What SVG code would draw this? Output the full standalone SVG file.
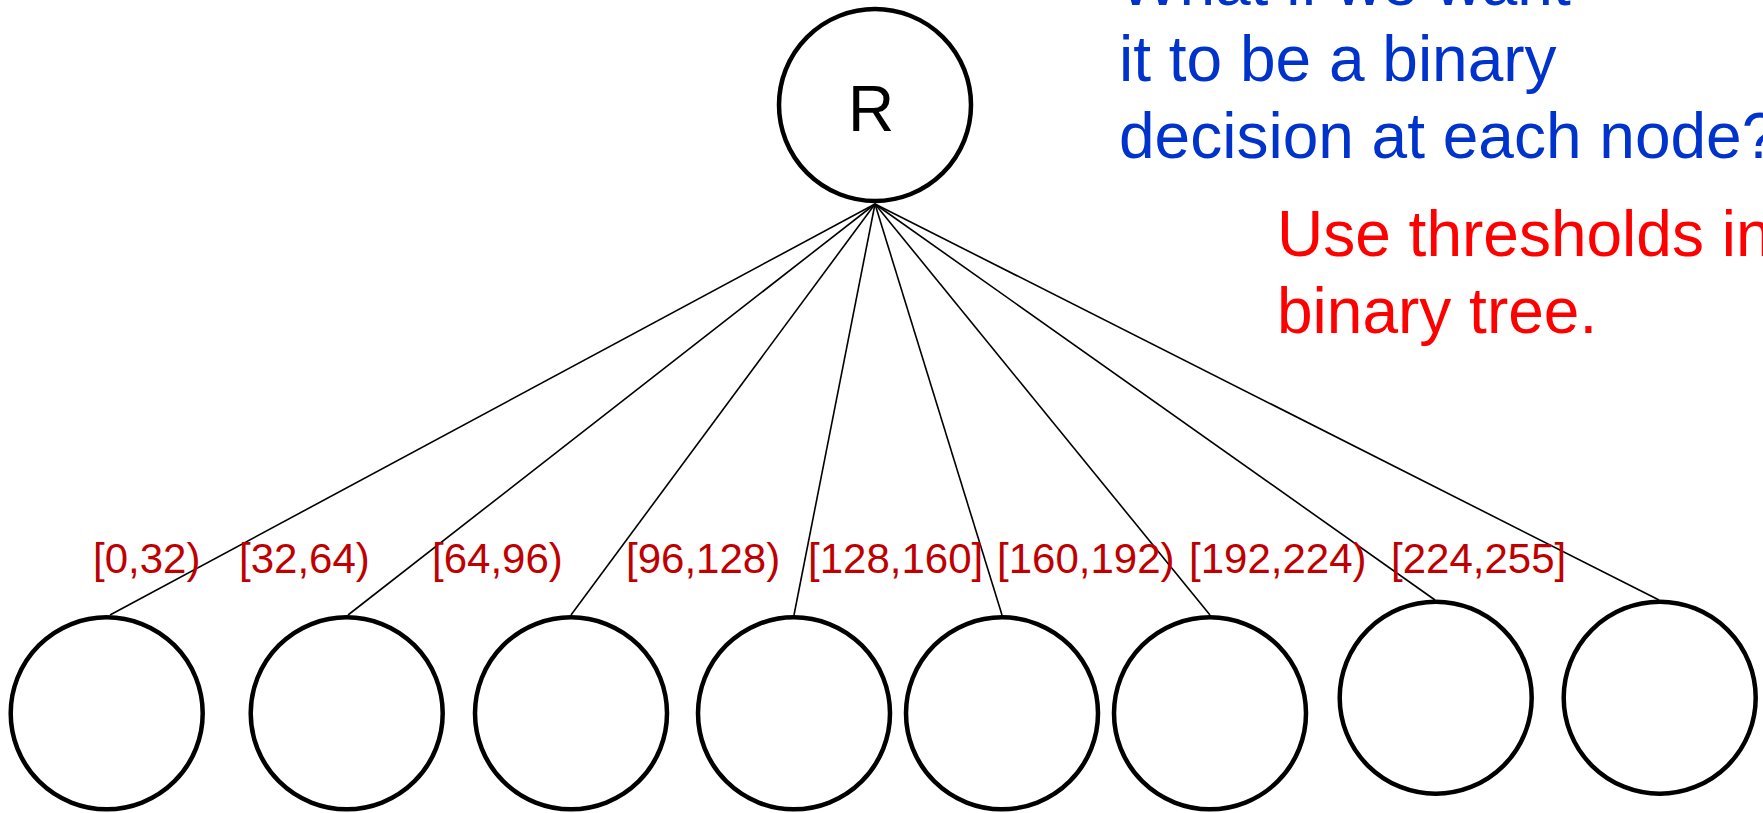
<svg xmlns="http://www.w3.org/2000/svg" width="1763" height="813" viewBox="0 0 1763 813">
<style>
.node{fill:#fff;stroke:#000;stroke-width:4.5}
.edge{stroke:#000;stroke-width:1.6;fill:none}
.lbl{font-family:"Liberation Sans",Arial,sans-serif;font-size:42px;fill:#C00000}
.blue{font-family:"Liberation Sans",Arial,sans-serif;font-size:64px;fill:#0033CC}
.red{font-family:"Liberation Sans",Arial,sans-serif;font-size:64px;fill:#FF0000}
.rt{font-family:"Liberation Sans",Arial,sans-serif;font-size:64px;fill:#000}
</style>
<rect width="1763" height="813" fill="#fff"/>
<g id="connectors">
<line class="edge" x1="875" y1="204" x2="110" y2="615"/>
<line class="edge" x1="875" y1="204" x2="348" y2="615"/>
<line class="edge" x1="875" y1="204" x2="571" y2="615"/>
<line class="edge" x1="875" y1="204" x2="794" y2="615"/>
<line class="edge" x1="875" y1="204" x2="1002" y2="615"/>
<line class="edge" x1="875" y1="204" x2="1210" y2="615"/>
<line class="edge" x1="875" y1="204" x2="1435" y2="600"/>
<line class="edge" x1="875" y1="204" x2="1659" y2="600"/>
</g>
<g id="root"><circle class="node" cx="875" cy="105" r="96"/><text class="rt" x="871" y="131" text-anchor="middle">R</text></g>
<g id="n1"><circle class="node" cx="106.7" cy="713.3" r="96"/></g>
<g id="n2"><circle class="node" cx="346.7" cy="713.3" r="96"/></g>
<g id="n3"><circle class="node" cx="571" cy="713.3" r="96"/></g>
<g id="n4"><circle class="node" cx="794" cy="713.3" r="96"/></g>
<g id="n5"><circle class="node" cx="1002" cy="713.3" r="96"/></g>
<g id="n6"><circle class="node" cx="1210" cy="713.3" r="96"/></g>
<g id="n7"><circle class="node" cx="1435.7" cy="697.7" r="96"/></g>
<g id="n8"><circle class="node" cx="1659.7" cy="697.7" r="96"/></g>
<g id="labels">
<text class="lbl" x="93" y="573">[0,32)</text>
<text class="lbl" x="239" y="573">[32,64)</text>
<text class="lbl" x="432" y="573">[64,96)</text>
<text class="lbl" x="626" y="573">[96,128)</text>
<text class="lbl" x="808" y="573">[128,160]</text>
<text class="lbl" x="997" y="573">[160,192)</text>
<text class="lbl" x="1189" y="573">[192,224)</text>
<text class="lbl" x="1391" y="573">[224,255]</text>
</g>
<g id="question">
<text class="blue" x="1119" y="4.5">What if we want</text>
<text class="blue" x="1119" y="81">it to be a binary</text>
<text class="blue" x="1119" y="157.7">decision at each node?</text>
</g>
<g id="answer">
<text class="red" x="1277" y="255.7">Use thresholds in</text>
<text class="red" x="1277" y="333.3">binary tree.</text>
</g>
</svg>
